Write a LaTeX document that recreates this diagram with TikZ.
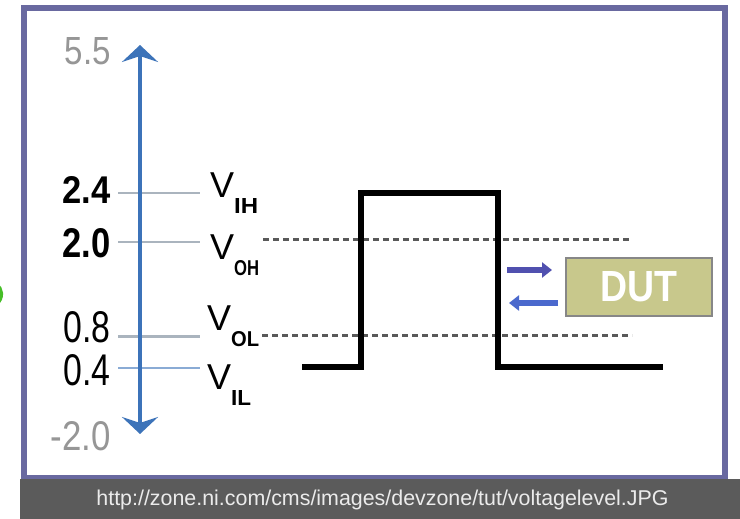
\documentclass[tikz,border=0pt]{standalone}
\usepackage{fontspec}
\setmainfont{Liberation Sans}
\usetikzlibrary{arrows.meta}
\definecolor{frameC}{RGB}{105,105,160}
\definecolor{barC}{RGB}{91,91,91}
\definecolor{axisC}{RGB}{60,115,185}
\definecolor{tickC}{RGB}{170,180,190}
\definecolor{dutC}{RGB}{200,200,140}
\definecolor{dutB}{RGB}{135,135,135}
\definecolor{arrR}{RGB}{80,80,175}
\definecolor{arrL}{RGB}{75,105,205}
\definecolor{grayT}{RGB}{150,150,150}
\definecolor{greenC}{RGB}{70,190,40}
\tikzset{
  lbl/.style={inner sep=0pt, anchor=base east},
  vlbl/.style={inner sep=0pt, anchor=base west},
  tickline/.style={tickC, line width=2pt},
  dashline/.style={black!65, line width=3pt, dash pattern=on 6pt off 4pt},
  pulse/.style={black, line width=5.5pt, line join=miter},
  duta/.style={line width=6pt, -{Triangle[width=15pt,length=10pt]}}
}
\newcommand{\vsub}[2]{\fontsize{36}{36}\selectfont V\raisebox{-16pt}{\bfseries\resizebox{#2}{15pt}{#1}}}
\begin{document}
\begin{tikzpicture}[x=1pt,y=-1pt]
\useasboundingbox (0,0) rectangle (740,519);
\fill[white] (0,0) rectangle (740,519);
% green arc at left edge
\draw[greenC, line width=4pt] (-4,304) arc[start angle=55, end angle=-55, radius=12];
% frame
\draw[frameC, line width=6pt] (23.5,8.5) rectangle (725,478);
% caption bar
\fill[barC] (20,479) rectangle (740,519);
\node[inner sep=0pt, text=white!92!black, font=\fontsize{21.4}{22}\selectfont] (cap) at (382.5,499.5) {http://zone.ni.com/cms/images/devzone/tut/voltagelevel.JPG};
% ticks
\coordinate (t24a) at (118,193); \coordinate (t24b) at (200,193);
\coordinate (t20a) at (118,242); \coordinate (t20b) at (200,242);
\coordinate (t08a) at (118,336); \coordinate (t08b) at (200,336);
\coordinate (t04a) at (118,368); \coordinate (t04b) at (200,368);
\draw[tickline] (t24a) -- (t24b);
\draw[tickline] (t20a) -- (t20b);
\draw[tickline, line width=3pt] (t08a) -- (t08b);
\draw[tickline, color=axisC!60, line width=1.5pt] (t04a) -- (t04b);
% axis
\coordinate (ytop) at (140,45);
\coordinate (ybot) at (140,434);
\draw[axisC, line width=3.5pt, {Stealth[width=36pt,length=17pt,inset=6pt]}-{Stealth[width=36pt,length=17pt,inset=6pt]}] (ybot) -- (ytop);
% value labels
\node[lbl] (l55) at (111,65) {\resizebox{46pt}{27pt}{\textcolor{grayT}{5.5}}};
\node[lbl] (l24) at (111,204) {\resizebox{48pt}{27pt}{\bfseries 2.4}};
\node[lbl] (l20) at (111,257) {\resizebox{48pt}{29pt}{\bfseries 2.0}};
\node[lbl] (l08) at (111,342) {\resizebox{47pt}{31pt}{0.8}};
\node[lbl] (l04) at (111,385) {\resizebox{47pt}{31pt}{0.4}};
\node[lbl] (lm20) at (111,450) {\resizebox{60pt}{29pt}{\textcolor{grayT}{-2.0}}};
% V labels
\node[vlbl] (vih) at (210,197) {\vsub{IH}{24pt}};
\node[vlbl] (voh) at (210,259) {\vsub{OH}{25pt}};
\node[vlbl] (vol) at (207,330) {\vsub{OL}{28pt}};
\node[vlbl] (vil) at (207,389) {\vsub{IL}{20pt}};
% dashed lines
\coordinate (dOHa) at (263,239); \coordinate (dOHb) at (631,239);
\coordinate (dOLa) at (262,335); \coordinate (dOLb) at (632,335);
\draw[dashline] (dOHa) -- (dOHb);
\draw[dashline] (dOLa) -- (dOLb);
% pulse
\coordinate (p0) at (302,367);
\coordinate (p1) at (361,367);
\coordinate (p2) at (361,193);
\coordinate (p3) at (498,193);
\coordinate (p4) at (498,367);
\coordinate (p5) at (663,367);
\draw[pulse] (p0) -- (p1) -- (p2) -- (p3) -- (p4) -- (p5);
% DUT
\node[draw=dutB, fill=dutC, line width=2.5pt, minimum width=146pt, minimum height=58pt, inner sep=0pt] (dut) at (639,287) {\textcolor{white}{\resizebox{77pt}{30pt}{\bfseries DUT}}};
\coordinate (ar1) at (507,270); \coordinate (ar2) at (552,270);
\coordinate (al1) at (558,303); \coordinate (al2) at (509,303);
\draw[duta, arrR] (ar1) -- (ar2);
\draw[duta, arrL] (al1) -- (al2);
\end{tikzpicture}
\end{document}
